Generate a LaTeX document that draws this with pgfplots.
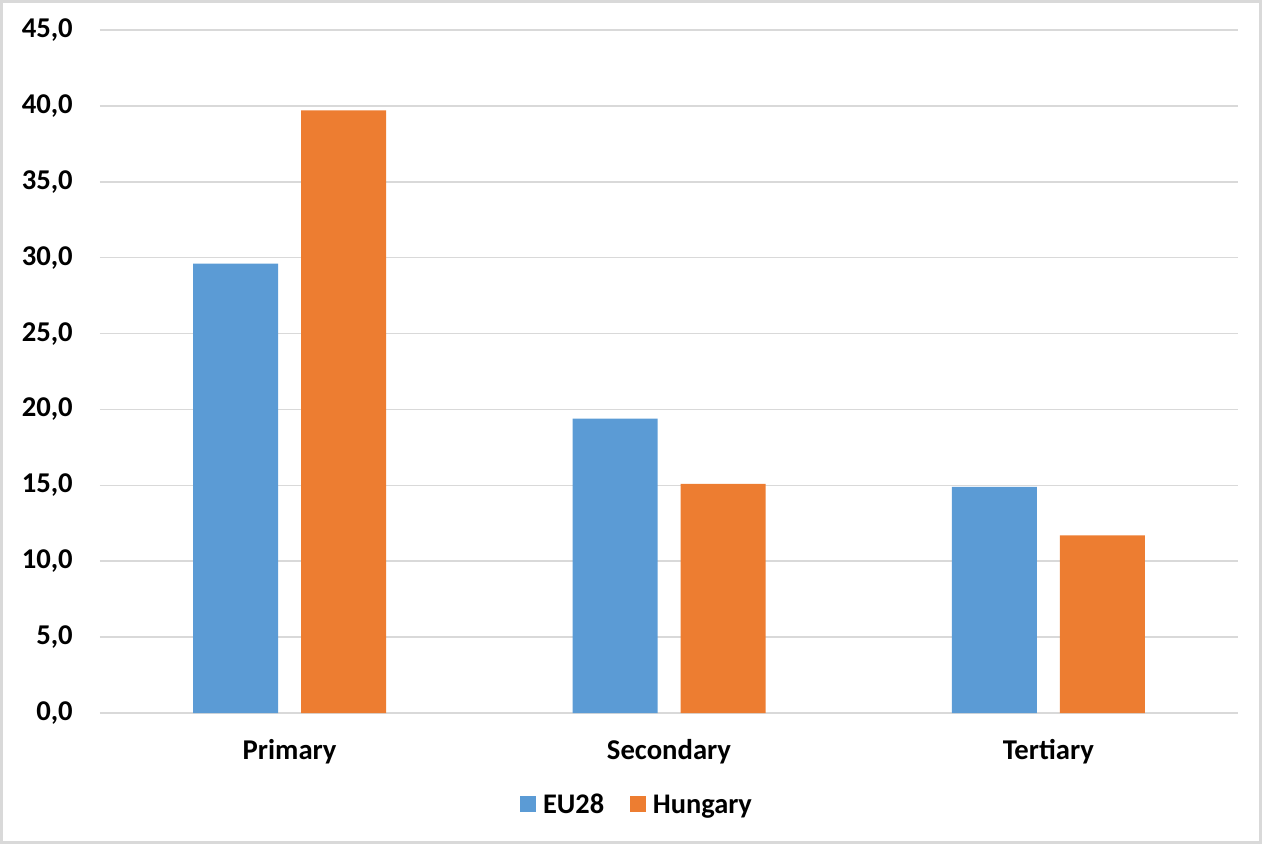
\documentclass[border=0pt]{standalone}
\usepackage{fontspec}
\setmainfont{Carlito}
\usepackage{pgfplots}
\pgfplotsset{compat=1.18}
\definecolor{eublue}{HTML}{5B9BD5}
\definecolor{huorange}{HTML}{ED7D31}
\definecolor{gridgray}{HTML}{D9D9D9}
\begin{document}
\begin{tikzpicture}
\useasboundingbox (-75pt,-98.25pt) rectangle (871.5pt,534.75pt);
\draw[gridgray, line width=1.8pt] (-74pt,-97.25pt) rectangle (870.5pt,533.75pt);
\begin{axis}[
  at={(0pt,0pt)}, anchor=south west,
  scale only axis,
  width=853.5pt, height=512.25pt,
  ybar=17.25pt, bar width=63.75pt,
  xmin=-0.5, xmax=2.5,
  ymin=0, ymax=45,
  ytick={0,5,...,45},
  xtick={0,1,2},
  xticklabels={Primary,Secondary,Tertiary},
  axis line style={draw=none},
  major tick length=0pt,
  ymajorgrids,
  grid style={gridgray, line width=1.1pt},
  /pgf/number format/.cd, fixed, fixed zerofill, precision=1, use comma, assume math mode=true,
  /pgfplots/.cd,
  tick label style={font=\fontsize{21.5}{25}\selectfont\bfseries},
  yticklabel style={anchor=east, inner sep=0pt, xshift=-20.25pt},
  xticklabel style={anchor=base, inner sep=0pt, yshift=-34.5pt},
  legend style={at={(0.472,-0.1347)}, anchor=center, legend columns=2, draw=none,
    font=\fontsize{21.3}{25}\selectfont\bfseries,
    /tikz/every odd column/.append style={column sep=3.5pt},
    /tikz/every even column/.append style={column sep=17pt},
    legend cell align=left},
  legend image code/.code={\fill[#1] (0pt,-5pt) rectangle (12pt,7pt);},
]
\addplot[fill=eublue, draw=none] coordinates {(0,29.6) (1,19.4) (2,14.9)};
\addplot[fill=huorange, draw=none] coordinates {(0,39.7) (1,15.1) (2,11.7)};
\legend{EU28,Hungary}
\end{axis}
\end{tikzpicture}
\end{document}
